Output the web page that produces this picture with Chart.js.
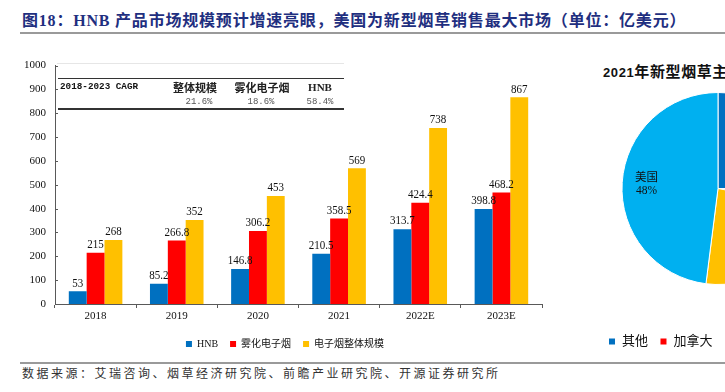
<!DOCTYPE html>
<html>
<head>
<meta charset="utf-8">
<script src="https://cdn.jsdelivr.net/npm/chart.js@4.4.1/dist/chart.umd.min.js"></script>
<style>
  html, body { margin: 0; padding: 0; background: #fff; }
  #page { position: relative; width: 725px; height: 392px; overflow: hidden; background: #fff; }
  .abs { position: absolute; white-space: nowrap; }
  #title { left: 22px; top: 11px; font: bold 16px/20px "Liberation Serif", "Noto Sans CJK SC", serif; color: #1f2f80; letter-spacing: 0.8px; }
  .rule { position: absolute; left: 20px; width: 705px; height: 2px; background: #9a9a9a; }
  #source { left: 22px; top: 366px; font: 12px/16px "Liberation Serif", "Noto Sans CJK SC", serif; color: #333; letter-spacing: 2.5px; }
  #barBox { position: absolute; left: 0; top: 50px; width: 560px; height: 310px; }
  #pieBox { position: absolute; left: 560px; top: 50px; width: 316px; height: 312px; }
  #pieTitle { left: 603px; top: 62px; font: bold 15px/20px "Liberation Sans", "Noto Sans CJK SC", sans-serif; color: #111; letter-spacing: 0.6px; }
  .tline { position: absolute; left: 58px; width: 286px; height: 1.5px; background: #333; }
  .cell { position: absolute; transform: translate(-50%, -50%); white-space: nowrap; }
  .head { font: bold 11px "Liberation Serif", "Noto Sans CJK SC", serif; color: #222; }
  .val { font: 9px "Liberation Mono", monospace; color: #555; }
</style>
</head>
<body>
<div id="page">
  <div id="title" class="abs">图18：HNB 产品市场规模预计增速亮眼，美国为新型烟草销售最大市场（单位：亿美元）</div>
  <div class="rule" style="top:32px"></div>

  <div id="barBox"><canvas id="barChart"></canvas></div>

  <!-- CAGR table sitting in the top of the plot -->
  <div style="position:absolute;left:57px;top:63px;width:287px;height:1px;background:#e6e6e6"></div>
  <div class="tline" style="top:77.5px"></div>
  <div class="tline" style="top:108px"></div>
  <div class="abs" style="left:60px;top:81px;font:bold 9.3px/12px 'Liberation Mono', monospace;color:#111">2018-2023 CAGR</div>
  <div id="cagrCells"></div>

  <div id="pieTitle" class="abs"><span style="font-size:13px">2021</span>年新型烟草主要市场份额</div>
  <div id="pieBox"><canvas id="pieChart"></canvas></div>

  <div class="rule" style="top:362px;height:1.5px"></div>
  <div id="source" class="abs">数据来源：艾瑞咨询、烟草经济研究院、前瞻产业研究院、开源证券研究所</div>
</div>

<script>
// bar chart data (亿美元)
const years = ['2018', '2019', '2020', '2021', '2022E', '2023E'];
const hnb = [53, 85.2, 146.8, 210.5, 313.7, 398.8];
const vapor = [215, 266.8, 306.2, 358.5, 424.4, 468.2];
const total = [268, 352, 453, 569, 738, 867];

// CAGR table
const cagrNames = ['整体规模', '雾化电子烟', 'HNB'];
const cagrValues = ['21.6%', '18.6%', '58.4%'];

// pie data (2021 share, %)
const markets = ['其他', '加拿大', '日本', '美国'];
const shares = [25, 3, 24, 48];

// table cells
const cagrX = [195, 262, 320];
const cagrValX = [199, 261, 320];
let cells = '';
cagrNames.forEach((n, i) => {
    cells += `<div class="cell head" style="left:${cagrX[i]}px;top:87px">${n}</div>`;
    cells += `<div class="cell val" style="left:${cagrValX[i]}px;top:102px">${cagrValues[i]}</div>`;
});
document.getElementById('cagrCells').innerHTML = cells;

const serif = '"Liberation Serif", "Noto Sans CJK SC", serif';

// value labels above bars
const barLabels = {
    id: 'barLabels',
    afterDatasetsDraw(chart) {
        const ctx = chart.ctx;
        ctx.save();
        ctx.font = '12.5px ' + serif;
        ctx.fillStyle = '#111';
        ctx.textAlign = 'center';
        chart.data.datasets.forEach((ds, i) => {
            chart.getDatasetMeta(i).data.forEach((bar, j) => {
                ctx.save();
                ctx.translate(bar.x, bar.y - 8);
                ctx.scale(0.88, 1);
                ctx.fillText(String(ds.data[j]), 0, 0);
                ctx.restore();
            });
        });
        ctx.restore();
    }
};

// small inward ticks on the y axis
const yTicksIn = {
    id: 'yTicksIn',
    afterDraw(chart) {
        const y = chart.scales.y;
        const ctx = chart.ctx;
        ctx.save();
        ctx.strokeStyle = '#595959';
        ctx.lineWidth = 1;
        y.ticks.forEach((t, i) => {
            const py = Math.round(y.getPixelForTick(i)) + 0.5;
            ctx.beginPath();
            ctx.moveTo(y.right, py);
            ctx.lineTo(y.right + 3, py);
            ctx.stroke();
        });
        ctx.restore();
    }
};

// nudge the legend sideways after layout
const legendShift = {
    id: 'legendShift',
    afterLayout(chart, args, opts) {
        const dx = opts.dx || 0;
        if (chart.legend && dx) {
            chart.legend.left += dx;
            chart.legend.right += dx;
        }
    }
};

new Chart(document.getElementById('barChart'), {
    type: 'bar',
    data: {
        labels: years,
        datasets: [
            { label: 'HNB', data: hnb, backgroundColor: '#0070c0' },
            { label: '雾化电子烟', data: vapor, backgroundColor: '#ff0000' },
            { label: '电子烟整体规模', data: total, backgroundColor: '#ffc000' }
        ]
    },
    options: {
        responsive: true,
        maintainAspectRatio: false,
        animation: false,
        categoryPercentage: 0.66,
        barPercentage: 1.0,
        layout: { padding: { top: 13, left: 0, right: 18, bottom: 1 } },
        scales: {
            x: {
                grid: { display: true, drawOnChartArea: false, drawTicks: true, tickLength: 4, color: '#595959', offset: true },
                border: { color: '#595959' },
                ticks: { padding: 2, color: '#111', font: { family: serif, size: 11 } },
                afterFit(s) { s.height = 23; }
            },
            y: {
                min: 0,
                max: 1000,
                grid: { display: false, drawTicks: false },
                border: { display: true, color: '#595959' },
                ticks: { stepSize: 100, padding: 9, color: '#111', font: { family: serif, size: 11 }, callback: v => String(v) },
                afterFit(s) { s.width = 55; }
            }
        },
        plugins: {
            legend: {
                position: 'bottom',
                labels: { boxWidth: 6, boxHeight: 6, padding: 12, color: '#111', font: { family: serif, size: 10 } }
            },
            legendShift: { dx: 14 },
            tooltip: { enabled: false }
        }
    },
    plugins: [barLabels, yTicksIn, legendShift]
});

// labels inside pie slices
const pieLabels = {
    id: 'pieLabels',
    afterDatasetsDraw(chart) {
        const ctx = chart.ctx;
        const meta = chart.getDatasetMeta(0);
        ctx.save();
        ctx.font = '11.5px ' + serif;
        ctx.fillStyle = '#111';
        ctx.textAlign = 'center';
        ctx.textBaseline = 'middle';
        meta.data.forEach((arc, i) => {
            if (shares[i] < 5) return;
            const mid = (arc.startAngle + arc.endAngle) / 2;
            const r = arc.outerRadius * 0.745;
            const x = arc.x + Math.cos(mid) * r;
            const y = arc.y + Math.sin(mid) * r;
            ctx.fillText(markets[i], x, y - 6.5);
            ctx.fillText(shares[i] + '%', x, y + 7);
        });
        ctx.restore();
    }
};

new Chart(document.getElementById('pieChart'), {
    type: 'pie',
    data: {
        labels: markets,
        datasets: [{
            data: shares,
            backgroundColor: ['#0070c0', '#ff0000', '#ffc000', '#00b0f0'],
            borderColor: '#fff',
            borderWidth: 1,
            radius: 96
        }]
    },
    options: {
        responsive: true,
        maintainAspectRatio: false,
        animation: false,
        layout: { padding: { top: 4, bottom: 4 } },
        plugins: {
            legend: {
                position: 'bottom',
                labels: { boxWidth: 7, boxHeight: 7, padding: 12, color: '#111', font: { family: serif, size: 13 } }
            },
            legendShift: { dx: -6 },
            tooltip: { enabled: false }
        }
    },
    plugins: [pieLabels, legendShift]
});
</script>
</body>
</html>
